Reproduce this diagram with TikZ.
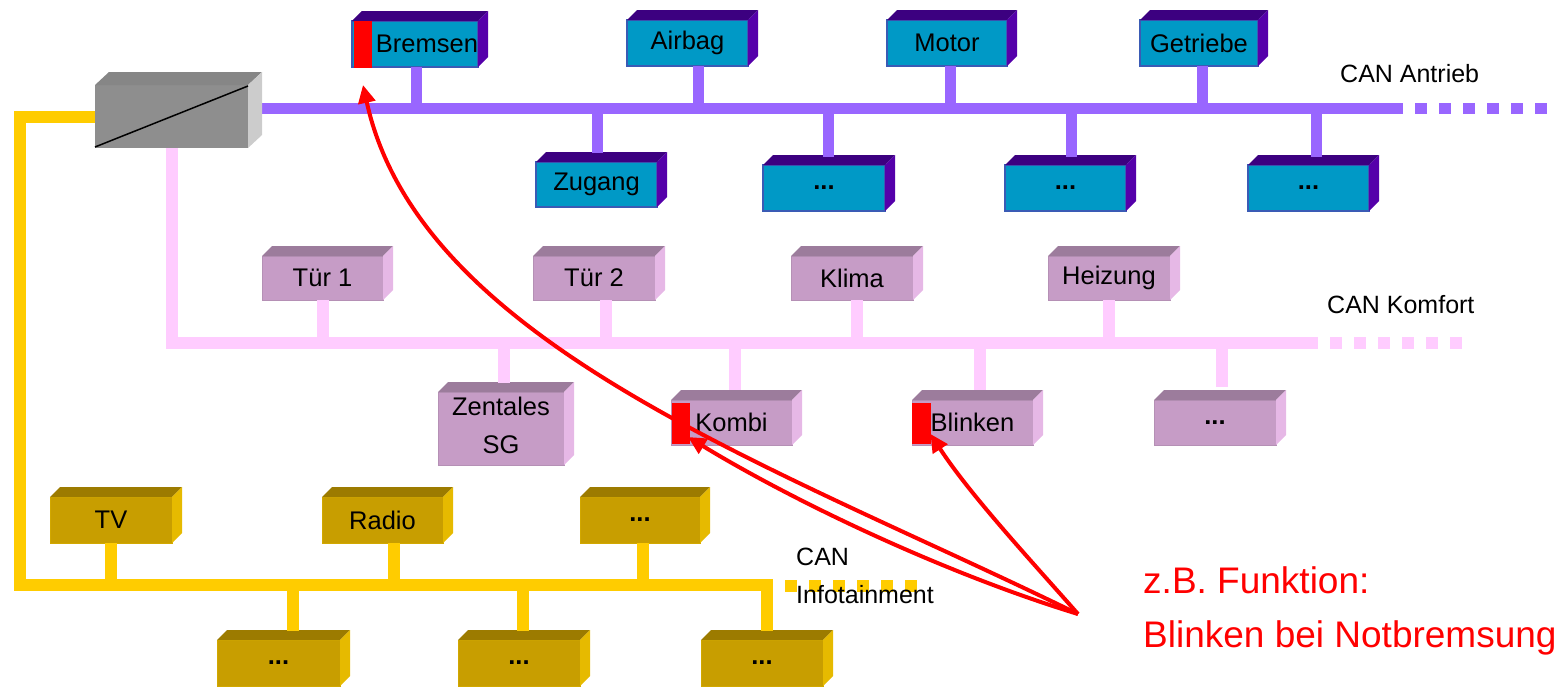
\documentclass[tikz,border=0pt]{standalone}
\usepackage{fontspec}
\setmainfont{Liberation Sans}
\usetikzlibrary{arrows.meta}
\definecolor{busAcol}{HTML}{9966FF}
\definecolor{busKcol}{HTML}{FFCCFF}
\definecolor{busIcol}{HTML}{FFCC00}
\definecolor{aFront}{HTML}{0099C6}
\definecolor{aEdge}{HTML}{3A5BB5}
\definecolor{aTop}{HTML}{3C0080}
\definecolor{aSide}{HTML}{5500AA}
\definecolor{kFront}{HTML}{C69CC6}
\definecolor{kEdge}{HTML}{B590B5}
\definecolor{kTop}{HTML}{9C7C9C}
\definecolor{kSide}{HTML}{E6B8E6}
\definecolor{iFront}{HTML}{C89E00}
\definecolor{iEdge}{HTML}{D2A800}
\definecolor{iTop}{HTML}{9C7B00}
\definecolor{iSide}{HTML}{E6BA00}
\definecolor{gwFrontCol}{HTML}{8E8E8E}
\definecolor{gwTopCol}{HTML}{868686}
\definecolor{gwSideCol}{HTML}{CCCCCC}
\newcommand\ecu[7]{%
  \node[#2, minimum width=#5pt, minimum height=#6pt] (#1) at (#3,#4) {#7};
  \fill[#2top] (#1.north west) -- ++(10,-10) -- ([shift={(10,-10)}]#1.north east) -- (#1.north east) -- cycle;
  \fill[#2side] (#1.north east) -- ++(10,-10) -- ([shift={(10,-10)}]#1.south east) -- (#1.south east) -- cycle;
}
\begin{document}
\begin{tikzpicture}[x=1pt,y=-1pt,
  busA/.style={draw=busAcol, line width=11pt},
  busK/.style={draw=busKcol, line width=12pt},
  busI/.style={draw=busIcol, line width=12pt},
  dotted bus/.style={dash pattern=on 12pt off 12pt},
  ecubase/.style={inner sep=0pt, outer sep=0pt, font=\fontsize{25.5}{30}\selectfont, text=black},
  ecuA/.style={ecubase, fill=aFront, draw=aEdge, line width=1.3pt},
  ecuAtop/.style={fill=aTop},
  ecuAside/.style={fill=aSide},
  ecuK/.style={ecubase, fill=kFront, draw=kEdge, line width=0.8pt},
  ecuKtop/.style={fill=kTop},
  ecuKside/.style={fill=kSide},
  ecuI/.style={ecubase, fill=iFront, draw=iEdge, line width=0.8pt},
  ecuItop/.style={fill=iTop},
  ecuIside/.style={fill=iSide},
  redbar/.style={fill=red, inner sep=0pt, outer sep=0pt},
  gwfront/.style={fill=gwFrontCol, inner sep=0pt, outer sep=0pt},
  lab/.style={inner sep=0pt, font=\fontsize{25}{30}\selectfont, text=black},
  redlab/.style={inner sep=0pt, font=\fontsize{37}{44}\selectfont, text=red},
  redarrow/.style={draw=red, line width=4pt, -{Triangle[length=18pt,width=17pt]}}
]
\useasboundingbox (0,0) rectangle (1560,688);

% ---------- bus coordinates ----------
\coordinate (canA) at (255,108);
\coordinate (canAend) at (1403,108);
\coordinate (canK) at (172,343);
\coordinate (canKend) at (1318,343);
\coordinate (canI) at (20,585);
\coordinate (canIend) at (773,585);

% ---------- buses ----------
\draw[busA] (canA) -- (canAend);
\draw[busA, dotted bus] (1415,108) -- (1548,108);
\draw[busK] (172,140) -- (canK) -- (canKend);
\draw[busK, dotted bus] (1330,343) -- (1462,343);
\draw[busI] (100,117) -- (20,117) -- (canI) -- (canIend);
\draw[busI, dotted bus] (785,586) -- (918,586);

% ---------- gateway ----------
\node[gwfront, minimum width=153pt, minimum height=63pt] (gw) at (171.5,116.5) {};
\fill[gwTopCol] (gw.north west) -- ++(14,-13) -- ([shift={(14,-13)}]gw.north east) -- (gw.north east) -- cycle;
\fill[gwSideCol] (gw.north east) -- ++(14,-13) -- ([shift={(14,-13)}]gw.south east) -- (gw.south east) -- cycle;
\draw[black, line width=1.5pt] ([shift={(0,-1)}]gw.south west) -- ([shift={(0,1)}]gw.north east);

% ---------- CAN Antrieb ----------
\ecu{bremsen}{ecuA}{415}{44}{122}{46}{\hspace*{24pt}Bremsen}
\ecu{airbag}{ecuA}{687.5}{43}{121}{46}{Airbag}
\ecu{motor}{ecuA}{947}{43}{120}{46}{Motor}
\ecu{getriebe}{ecuA}{1199}{43}{118}{46}{Getriebe}
\ecu{zugang}{ecuA}{596.5}{184.5}{121}{45}{Zugang}
\ecu{dotsAa}{ecuA}{824}{188}{122}{46}{\textbf{...}}
\ecu{dotsAb}{ecuA}{1065.5}{188}{121}{46}{\textbf{...}}
\ecu{dotsAc}{ecuA}{1308.5}{188}{121}{46}{\textbf{...}}
\draw[busA] (416,0 |- bremsen.south) -- (416,0 |- canA);
\draw[busA] (698,0 |- airbag.south) -- (698,0 |- canA);
\draw[busA] (950,0 |- motor.south) -- (950,0 |- canA);
\draw[busA] (1202,0 |- getriebe.south) -- (1202,0 |- canA);
\draw[busA] (597,0 |- canA) -- (597,153);
\draw[busA] (828,0 |- canA) -- (828,157);
\draw[busA] (1071,0 |- canA) -- (1071,157);
\draw[busA] (1316,0 |- canA) -- (1316,157);

% ---------- CAN Komfort ----------
\ecu{tuera}{ecuK}{322.5}{278}{121}{44}{Tür 1}
\ecu{tuerb}{ecuK}{594}{278}{122}{44}{Tür 2}
\ecu{klima}{ecuK}{852}{278}{122}{44}{Klima}
\ecu{heizung}{ecuK}{1109}{278}{122}{44}{Heizung}
\ecu{zentral}{ecuK}{501}{428.5}{126}{73}{\begin{tabular}{@{}c@{}}Zentales\\[8pt]SG\end{tabular}}
\ecu{kombi}{ecuK}{731.5}{422.5}{121}{45}{Kombi}
\ecu{blinken}{ecuK}{972.5}{422.5}{121}{45}{Blinken}
\ecu{dotsK}{ecuK}{1215}{422.5}{122}{45}{\textbf{...}}
\draw[busK] (323,0 |- tuera.south) -- (323,0 |- canK);
\draw[busK] (606,0 |- tuerb.south) -- (606,0 |- canK);
\draw[busK] (857,0 |- klima.south) -- (857,0 |- canK);
\draw[busK] (1109,0 |- heizung.south) -- (1109,0 |- canK);
\draw[busK] (504,0 |- canK) -- (504,383);
\draw[busK] (735,0 |- canK) -- (735,390);
\draw[busK] (980,0 |- canK) -- (980,390);
\draw[busK] (1222,0 |- canK) -- (1222,387);

% ---------- CAN Infotainment ----------
\ecu{tv}{ecuI}{111}{520}{122}{46}{TV}
\ecu{radio}{ecuI}{382.5}{520}{121}{46}{Radio}
\ecu{dotsIa}{ecuI}{640}{520}{120}{46}{\textbf{...}}
\ecu{dotsIb}{ecuI}{278.5}{663}{123}{46}{\textbf{...}}
\ecu{dotsIc}{ecuI}{519}{663}{122}{46}{\textbf{...}}
\ecu{dotsId}{ecuI}{762}{663}{122}{46}{\textbf{...}}
\draw[busI] (111,0 |- tv.south) -- (111,0 |- canI);
\draw[busI] (394,0 |- radio.south) -- (394,0 |- canI);
\draw[busI] (643,0 |- dotsIa.south) -- (643,0 |- canI);
\draw[busI] (293,0 |- canI) -- (293,631);
\draw[busI] (523,0 |- canI) -- (523,631);
\draw[busI] (767,0 |- canI) -- (767,631);

% ---------- red markers ----------
\node[redbar, minimum width=18pt, minimum height=47pt] (bremsbar) at (363,44.5) {};
\node[redbar, minimum width=18pt, minimum height=41pt] (kombibar) at (681,423.5) {};
\node[redbar, minimum width=19pt, minimum height=41pt] (blinkbar) at (921.5,423.5) {};

% ---------- labels ----------
\node[lab, anchor=base west] (labA) at (1340,82) {CAN Antrieb};
\node[lab, anchor=base west] (labK) at (1327,313) {CAN Komfort};
\node[lab, anchor=base west] (labIa) at (796,565) {CAN};
\node[lab, anchor=base west] (labIb) at (796,603) {Infotainment};
\node[redlab, anchor=base west] (fna) at (1143,593) {z.B. Funktion:};
\node[redlab, anchor=base west] (fnb) at (1143,647) {Blinken bei Notbremsung};

% ---------- arrows ----------
\coordinate (src) at (1078,614);
\coordinate (bremsTip) at ([yshift=-17pt]bremsbar.south);
\coordinate (kombiTip) at ([shift={(7,-7)}]kombibar.south);
\coordinate (blinkTip) at ([shift={(9,-10)}]blinkbar.south);
\draw[redarrow] (src) .. controls (778,467) and (420,345) .. (bremsTip);
\draw[redarrow] (src) .. controls (950,575) and (800,505) .. (kombiTip);
\draw[redarrow] (src) .. controls (1035,565) and (970,495) .. (blinkTip);
\end{tikzpicture}
\end{document}
